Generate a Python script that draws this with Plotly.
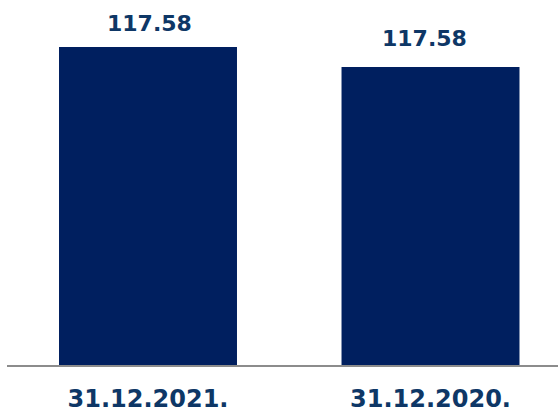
import plotly.graph_objects as go

categories = ["31.12.2021.", "31.12.2020."]
values = [117.58, 110.18]
value_labels = ["117.58", "117.58"]

bar_color = "#001F5F"
text_color = "#0E3766"
font_family = "DejaVu Sans, Verdana, sans-serif"

fig = go.Figure()
fig.add_trace(go.Bar(
    x=categories, y=values, marker=dict(color=bar_color, line=dict(width=0)),
    width=0.63, hoverinfo="skip",
))

label_shift = [(1, 9), (-6, 14)]
for (c, v, t), (dx, dy) in zip(zip(categories, values, value_labels), label_shift):
    fig.add_annotation(x=c, y=v, text="<b>%s</b>" % t, showarrow=False,
                       yanchor="bottom", xshift=dx, yshift=dy,
                       font=dict(family=font_family, size=22, color=text_color))

fig.update_layout(
    width=558, height=407,
    margin=dict(l=7, r=0, t=0, b=42, autoexpand=False),
    paper_bgcolor="white", plot_bgcolor="white",
    showlegend=False,
    xaxis=dict(
        type="category", range=[-0.4991, 1.4513],
        automargin=False,
        showline=True, linecolor="#8C8C8C", linewidth=2,
        showgrid=False, zeroline=False, ticks="",
        tickfont=dict(family=font_family, size=24, color=text_color),
        ticklabelstandoff=11,
        tickvals=categories,
        ticktext=["<b>%s</b>" % c for c in categories],
    ),
    yaxis=dict(range=[0, 134.96], visible=False, automargin=False,
               showgrid=False, zeroline=False),
)

# remove the browser's default body margin and the inline gap below the plot,
# so the page is exactly the size of the window
post = (
    "document.body.style.margin='0';"
    "document.documentElement.style.overflow='hidden';"
    "document.querySelectorAll('.svg-container').forEach(function(e){"
    "e.style.display='block';e.style.verticalAlign='top';});"
)
fig.write_html("out.html", config={"displayModeBar": False, "staticPlot": True},
               post_script=post)
